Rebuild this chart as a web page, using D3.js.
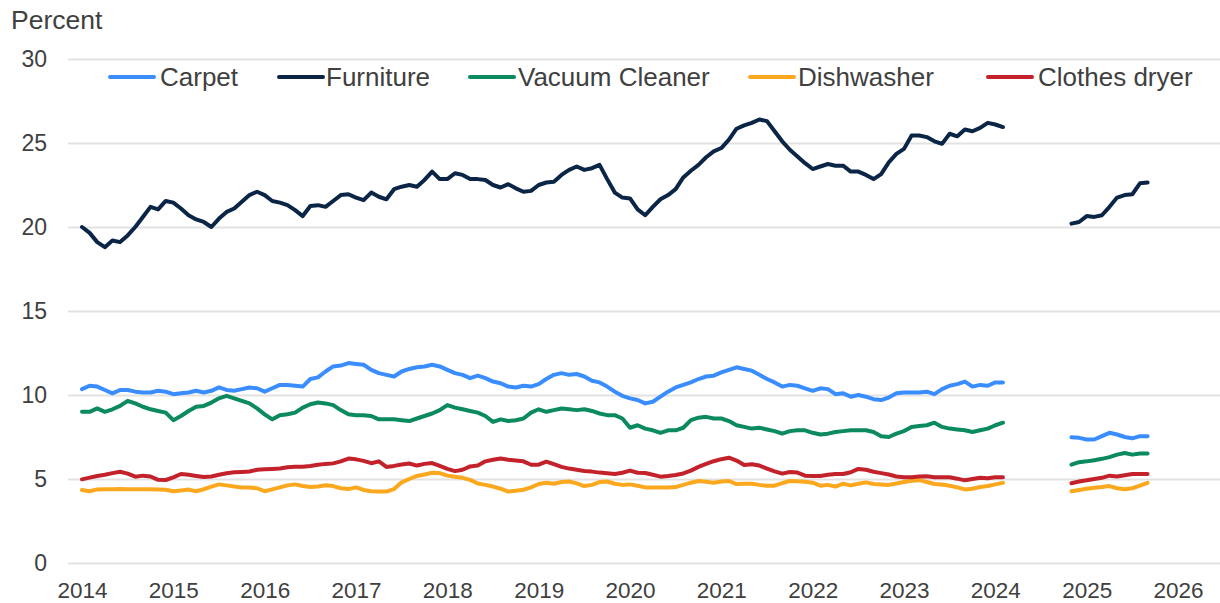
<!DOCTYPE html>
<html>
<head>
<meta charset="utf-8">
<script src="https://cdn.jsdelivr.net/npm/d3@7"></script>
<style>
  html, body { margin: 0; padding: 0; background: #ffffff; }
  svg { display: block; font-family: "Liberation Sans", Arial, sans-serif; }
</style>
</head>
<body>
<svg id="chart" width="1220" height="603"></svg>
<script>
// ---------------- DATA ----------------
const yTicks = [0, 5, 10, 15, 20, 25, 30];
const xTickYears = [2014, 2015, 2016, 2017, 2018, 2019, 2020, 2021, 2022, 2023, 2024, 2025, 2026];
const seriesNames = ["Carpet", "Furniture", "Vacuum Cleaner", "Dishwasher", "Clothes dryer"];

// first block: monthly Jan 2014 – Feb 2024
const firstStart = 2014; // January 2014
// second block: monthly Nov 2024 – Sep 2025
const secondStartMonthIndex = 130; // months after Jan 2014

const carpet1 = [
10.35,10.55,10.5,10.3,10.1,10.3,10.3,10.2,10.15,10.15,10.25,10.2,
10.05,10.1,10.15,10.25,10.15,10.25,10.45,10.3,10.25,10.35,10.45,10.4,
10.2,10.4,10.6,10.6,10.55,10.5,10.95,11.05,11.4,11.7,11.75,11.9,
11.85,11.8,11.5,11.3,11.2,11.1,11.4,11.55,11.65,11.7,11.8,11.7,
11.5,11.3,11.2,11.0,11.15,11.0,10.8,10.7,10.5,10.45,10.55,10.5,
10.65,10.95,11.2,11.3,11.2,11.25,11.1,10.85,10.75,10.5,10.2,9.95,
9.8,9.7,9.5,9.6,9.9,10.2,10.45,10.6,10.75,10.95,11.1,11.15,
11.35,11.5,11.65,11.55,11.45,11.2,10.95,10.75,10.5,10.6,10.55,10.4,
10.25,10.4,10.35,10.05,10.1,9.9,10.0,9.9,9.75,9.7,9.85,10.1,
10.15,10.15,10.15,10.2,10.05,10.35,10.55,10.65,10.8,10.5,10.6,10.55,
10.75,10.75];
const carpet2 = [7.48,7.45,7.35,7.35,7.55,7.75,7.65,7.5,7.42,7.55,7.55];

const furniture1 = [
20.0,19.65,19.1,18.8,19.2,19.1,19.5,20.0,20.6,21.2,21.05,21.55,
21.45,21.1,20.7,20.45,20.3,20.0,20.5,20.9,21.1,21.5,21.9,22.1,
21.9,21.55,21.45,21.3,21.0,20.65,21.25,21.3,21.2,21.55,21.9,21.95,
21.75,21.6,22.05,21.8,21.65,22.25,22.4,22.5,22.4,22.8,23.3,22.85,
22.85,23.2,23.1,22.85,22.85,22.8,22.5,22.35,22.55,22.3,22.1,22.15,
22.5,22.65,22.7,23.1,23.4,23.6,23.4,23.5,23.7,22.85,22.05,21.75,
21.7,21.05,20.7,21.2,21.65,21.9,22.25,22.95,23.35,23.7,24.15,24.5,
24.7,25.2,25.85,26.05,26.2,26.4,26.3,25.7,25.1,24.6,24.2,23.8,
23.45,23.6,23.75,23.65,23.65,23.3,23.3,23.1,22.85,23.15,23.85,24.35,
24.65,25.45,25.45,25.35,25.1,24.95,25.55,25.4,25.8,25.7,25.9,26.2,
26.1,25.95];
const furniture2 = [20.2,20.3,20.65,20.6,20.7,21.2,21.75,21.9,21.95,22.6,22.65];

const vacuum1 = [
9.0,9.0,9.2,9.0,9.15,9.35,9.65,9.5,9.3,9.15,9.05,8.95,
8.5,8.75,9.05,9.3,9.35,9.55,9.8,9.95,9.8,9.65,9.5,9.2,
8.85,8.55,8.8,8.85,8.95,9.25,9.45,9.55,9.5,9.4,9.1,8.85,
8.8,8.8,8.75,8.55,8.55,8.55,8.5,8.45,8.6,8.75,8.9,9.1,
9.4,9.25,9.15,9.05,8.95,8.75,8.4,8.55,8.45,8.5,8.6,8.95,
9.15,9.0,9.1,9.2,9.15,9.1,9.15,9.05,8.9,8.8,8.8,8.6,
8.05,8.2,8.0,7.9,7.75,7.9,7.9,8.05,8.5,8.65,8.7,8.6,
8.6,8.45,8.2,8.1,8.0,8.05,7.95,7.85,7.7,7.85,7.9,7.9,
7.75,7.65,7.7,7.8,7.85,7.9,7.9,7.9,7.8,7.55,7.5,7.7,
7.85,8.1,8.15,8.2,8.35,8.1,8.0,7.95,7.9,7.8,7.9,8.0,
8.2,8.35];
const vacuum2 = [5.85,6.0,6.05,6.12,6.2,6.3,6.45,6.55,6.45,6.52,6.52];

const dishwasher1 = [
4.35,4.27,4.38,4.39,4.39,4.4,4.39,4.39,4.39,4.39,4.38,4.36,
4.27,4.32,4.37,4.27,4.39,4.55,4.68,4.62,4.55,4.5,4.5,4.45,
4.27,4.38,4.5,4.62,4.68,4.58,4.52,4.55,4.63,4.58,4.45,4.4,
4.5,4.35,4.27,4.25,4.25,4.4,4.8,5.0,5.18,5.27,5.37,5.35,
5.2,5.13,5.07,4.95,4.73,4.65,4.55,4.42,4.25,4.3,4.36,4.5,
4.7,4.78,4.72,4.82,4.85,4.74,4.58,4.65,4.82,4.85,4.72,4.65,
4.68,4.6,4.5,4.5,4.5,4.5,4.52,4.65,4.78,4.88,4.83,4.78,
4.85,4.88,4.7,4.72,4.72,4.65,4.6,4.6,4.75,4.88,4.86,4.84,
4.78,4.6,4.65,4.55,4.72,4.62,4.72,4.8,4.7,4.67,4.65,4.73,
4.82,4.9,4.93,4.82,4.7,4.67,4.6,4.5,4.38,4.42,4.52,4.58,
4.68,4.77];
const dishwasher2 = [4.27,4.35,4.42,4.48,4.52,4.58,4.45,4.39,4.45,4.6,4.77];

const dryer1 = [
4.98,5.08,5.18,5.25,5.35,5.43,5.32,5.14,5.2,5.15,4.95,4.94,
5.1,5.3,5.25,5.18,5.12,5.15,5.25,5.34,5.4,5.42,5.45,5.55,
5.58,5.6,5.62,5.7,5.73,5.73,5.77,5.85,5.9,5.93,6.05,6.22,
6.17,6.08,5.94,6.05,5.72,5.78,5.86,5.92,5.8,5.9,5.95,5.78,
5.6,5.47,5.55,5.75,5.8,6.05,6.15,6.22,6.15,6.1,6.05,5.85,
5.85,6.03,5.88,5.72,5.62,5.55,5.48,5.44,5.38,5.34,5.3,5.37,
5.5,5.37,5.36,5.25,5.14,5.18,5.24,5.33,5.5,5.72,5.9,6.06,
6.18,6.27,6.1,5.83,5.88,5.8,5.62,5.45,5.32,5.42,5.38,5.2,
5.18,5.18,5.25,5.3,5.3,5.4,5.6,5.55,5.43,5.35,5.27,5.15,
5.1,5.1,5.15,5.16,5.1,5.1,5.1,5.02,4.92,5.0,5.08,5.05,
5.1,5.1];
const dryer2 = [4.75,4.85,4.93,5.0,5.07,5.2,5.15,5.22,5.3,5.3,5.3];

const colors = {
  "Carpet": "#3a8dff",
  "Furniture": "#0b2546",
  "Vacuum Cleaner": "#0a8a5e",
  "Dishwasher": "#fba81e",
  "Clothes dryer": "#c3222b"
};

// ---------------- BUILD ----------------
function buildSeries(a, b) {
  const pts = [];
  a.forEach((v, i) => pts.push({ t: firstStart + i / 12, v: v }));
  for (let i = a.length; i < secondStartMonthIndex; i++) pts.push({ t: firstStart + i / 12, v: null });
  b.forEach((v, i) => pts.push({ t: firstStart + (secondStartMonthIndex + i) / 12, v: v }));
  return pts;
}
const series = [
  { name: "Carpet", pts: buildSeries(carpet1, carpet2) },
  { name: "Furniture", pts: buildSeries(furniture1, furniture2) },
  { name: "Vacuum Cleaner", pts: buildSeries(vacuum1, vacuum2) },
  { name: "Dishwasher", pts: buildSeries(dishwasher1, dishwasher2) },
  { name: "Clothes dryer", pts: buildSeries(dryer1, dryer2) }
];

const svg = d3.select("#chart");
const textColor = "#404040";
const fontFam = '"Liberation Sans", Arial, sans-serif';

const x = d3.scaleLinear().domain([2014, 2026]).range([82, 1178]);
const y = d3.scaleLinear().domain([0, 30]).range([563, 59]);
const gridLeft = 68, gridRight = 1220;

// Y axis with gridlines
const yAxis = d3.axisLeft(y).tickValues(yTicks).tickSize(-(gridRight - gridLeft)).tickPadding(21).tickFormat(d3.format("d"));
const gy = svg.append("g").attr("transform", `translate(${gridLeft},0)`).call(yAxis);
gy.select(".domain").remove();
gy.selectAll(".tick line").attr("stroke", "#e2e2e2").attr("stroke-width", 2);
gy.selectAll(".tick text").attr("fill", textColor).style("font-size", "23px").style("font-family", fontFam);

// X axis labels
const xAxis = d3.axisBottom(x).tickValues(xTickYears).tickSize(0).tickPadding(19).tickFormat(d3.format("d"));
const gx = svg.append("g").attr("transform", `translate(0,${y(0)})`).call(xAxis);
gx.select(".domain").remove();
gx.selectAll(".tick text").attr("fill", textColor).style("font-size", "22.5px").style("font-family", fontFam);

// Unit label
svg.append("text").attr("x", 11).attr("y", 29).attr("fill", textColor)
  .style("font-size", "26.5px").text("Percent");

// Lines
const line = d3.line()
  .defined(d => d.v !== null)
  .x(d => x(d.t))
  .y(d => y(d.v));

svg.append("g").selectAll("path").data(series).join("path")
  .attr("d", d => line(d.pts))
  .attr("fill", "none")
  .attr("stroke", d => colors[d.name])
  .attr("stroke-width", 4)
  .attr("stroke-linejoin", "round")
  .attr("stroke-linecap", "round");

// Legend
const legendItems = [
  { name: "Carpet", x0: 110, tx: 160 },
  { name: "Furniture", x0: 279, tx: 326 },
  { name: "Vacuum Cleaner", x0: 470, tx: 518 },
  { name: "Dishwasher", x0: 750, tx: 798 },
  { name: "Clothes dryer", x0: 988, tx: 1038 }
];
const lg = svg.append("g");
legendItems.forEach(it => {
  lg.append("line").attr("x1", it.x0).attr("x2", it.x0 + 44).attr("y1", 77).attr("y2", 77)
    .attr("stroke", colors[it.name]).attr("stroke-width", 4).attr("stroke-linecap", "round");
  lg.append("text").attr("x", it.tx).attr("y", 86).attr("fill", textColor)
    .style("font-size", "26px").text(it.name);
});
</script>
</body>
</html>
